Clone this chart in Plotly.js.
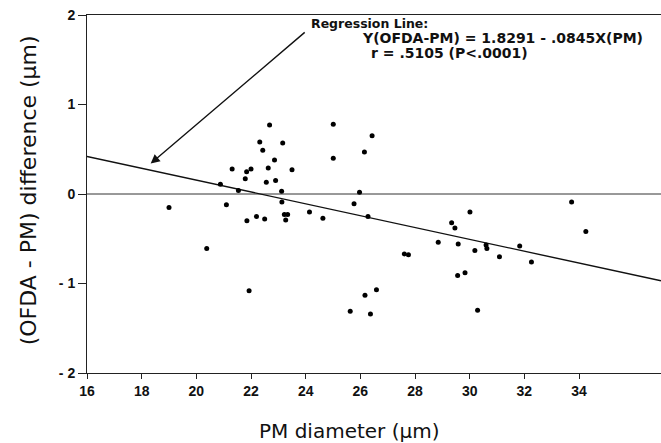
<!DOCTYPE html>
<html>
<head>
<meta charset="utf-8">
<script src="https://cdn.plot.ly/plotly-3.0.1.min.js"></script>
<style>html,body{margin:0;padding:0;background:#fff}#chart{width:661px;height:443px}</style>
</head>
<body>
<div id="chart"></div>
<script>
// PM diameter (µm)
const pmDiameter = [22.68,25.01,26.43,22.32,23.16,22.43,26.15,25.01,22.86,21.31,22.0,21.84,22.63,23.5,21.79,22.56,22.9,20.88,21.54,23.12,25.97,23.13,21.1,25.77,22.2,21.85,22.5,23.22,23.34,23.27,24.14,24.63,26.28,20.38,21.93,26.17,26.59,25.63,26.37,30.01,29.34,29.46,28.85,29.58,30.6,30.63,30.19,31.83,31.09,32.26,27.61,27.76,33.73,34.25,29.56,29.83,30.29,19.0];
// (OFDA - PM) difference (µm)
const difference = [0.77,0.78,0.65,0.58,0.57,0.49,0.47,0.40,0.38,0.28,0.28,0.25,0.29,0.27,0.17,0.13,0.15,0.11,0.04,0.03,0.02,-0.09,-0.12,-0.11,-0.25,-0.30,-0.28,-0.23,-0.23,-0.29,-0.20,-0.27,-0.25,-0.61,-1.08,-1.13,-1.07,-1.31,-1.34,-0.20,-0.32,-0.38,-0.54,-0.56,-0.57,-0.61,-0.63,-0.58,-0.70,-0.76,-0.67,-0.68,-0.09,-0.42,-0.91,-0.88,-1.30,-0.15];
// regression line end points as drawn
const regX = [16, 37];
const regY = [0.42, -0.97];
// zero reference line
const zeroX = [16, 37];
const zeroY = [0, 0];
const xTicks = [16,18,20,22,24,26,28,30,32,34];
const yTicks = [-2,-1,0,1,2];
const yTickText = ['- 2','- 1','0','1','2'];
const noteLines = ["Regression Line:", "Y(OFDA-PM) = 1.8291 - .0845X(PM)", "r = .5105 (P<.0001)"];

const F = 'Liberation Sans, Arial, sans-serif';
const D = 'DejaVu Sans, sans-serif';
const traces = [
  {x: zeroX, y: zeroY, mode: 'lines', line: {color: '#333', width: 1}, hoverinfo: 'skip'},
  {x: regX, y: regY, mode: 'lines', line: {color: '#111', width: 1.4}, hoverinfo: 'skip'},
  {x: pmDiameter, y: difference, mode: 'markers', marker: {color: '#000', size: 5, symbol: 'circle'}}
];
const layout = {
  width: 661, height: 443,
  margin: {l: 87, r: 0, t: 15, b: 70},
  showlegend: false,
  paper_bgcolor: '#fff', plot_bgcolor: '#fff',
  xaxis: {range: [16, 37], tickvals: xTicks, ticktext: xTicks.map(String), showgrid: false, zeroline: false,
    showline: true, mirror: true, linecolor: '#222', linewidth: 1, ticks: 'outside', ticklen: 5, tickcolor: '#222',
    tickfont: {family: F, size: 14, color: '#111', weight: 'bold'}},
  yaxis: {range: [-2, 2], tickvals: yTicks, ticktext: yTickText, showgrid: false, zeroline: false,
    showline: true, linecolor: '#222', linewidth: 1, ticks: 'outside', ticklen: 8, tickcolor: '#222',
    tickfont: {family: F, size: 14, color: '#111', weight: 'bold'}},
  annotations: [
    {x: 18.33, y: 0.34, ax: 24.02, ay: 1.82, axref: 'x', ayref: 'y', xref: 'x', yref: 'y', text: '',
     showarrow: true, arrowhead: 2, arrowsize: 1.3, arrowwidth: 1.4, arrowcolor: '#111'},
    {x: 24.14, y: 1.91, xref: 'x', yref: 'y', xanchor: 'left', yanchor: 'middle', showarrow: false, text: noteLines[0],
     font: {family: D, size: 12.5, color: '#111', weight: 'bold'}},
    {x: 25.97, y: 1.74, xref: 'x', yref: 'y', xanchor: 'left', yanchor: 'middle', showarrow: false, text: noteLines[1],
     font: {family: D, size: 14, color: '#111', weight: 'bold'}},
    {x: 26.33, y: 1.58, xref: 'x', yref: 'y', xanchor: 'left', yanchor: 'middle', showarrow: false, text: noteLines[2],
     font: {family: D, size: 14, color: '#111', weight: 'bold'}},
    {x: (349 - 87) / 574, y: (372.7 - 431) / 358, xref: 'paper', yref: 'paper', xanchor: 'center', yanchor: 'middle', showarrow: false,
     text: 'PM diameter (µm)', font: {family: D, size: 20, color: '#111'}},
    {x: (28 - 87) / 574, y: (372.7 - 190) / 358, xref: 'paper', yref: 'paper', xanchor: 'center', yanchor: 'middle', showarrow: false,
     textangle: -90, text: '(OFDA - PM) difference (µm)', font: {family: D, size: 22, color: '#111'}}
  ]
};
Plotly.newPlot('chart', traces, layout, {displayModeBar: false, staticPlot: true});
</script>
</body>
</html>
